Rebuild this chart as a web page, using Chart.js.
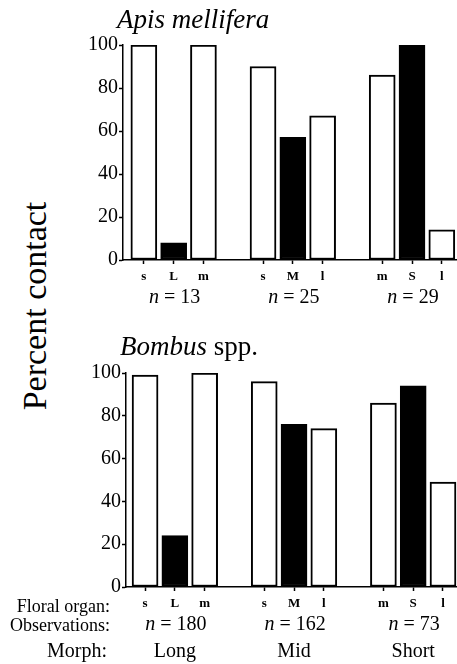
<!DOCTYPE html>
<html>
<head>
<meta charset="utf-8">
<script src="https://cdn.jsdelivr.net/npm/chart.js@4.4.1/dist/chart.umd.min.js"></script>
<style>
  body { margin: 0; background: #fff; width: 457px; height: 664px; position: relative; overflow: hidden; }
  canvas { position: absolute; left: 0; }
  #ylab {
    position: absolute; left: 35px; top: 306px;
    font-family: 'Liberation Serif', 'Times New Roman', serif; font-size: 34px; line-height: 1;
    white-space: nowrap; color: #000;
    transform-origin: 0 0; transform: rotate(-90deg) translate(-50%, -50%);
  }
</style>
</head>
<body>
<div id="ylab">Percent contact</div>
<canvas id="apis" width="457" height="310" style="top:0"></canvas>
<canvas id="bombus" width="457" height="354" style="top:310px"></canvas>
<script>
// floral organs per flower morph (capital = reciprocal organ, drawn black)
const morphs = ['Long', 'Mid', 'Short'];
const organs = [['s', 'L', 'm'], ['s', 'M', 'l'], ['m', 'S', 'l']];
const apisValues = [100, 8, 100, 90, 57, 67, 86, 100, 14];
const bombusValues = [99, 24, 100, 96, 76, 74, 86, 94, 49];
const apisN = [13, 25, 29];
const bombusN = [180, 162, 73];
const yTicks = [0, 20, 40, 60, 80, 100];

const serif = "'Liberation Serif', 'Times New Roman', serif";
Chart.defaults.font.family = serif;
Chart.defaults.color = '#000';

const labels = organs.flat();
// one empty slot between morph groups
const slots = labels.map((_, k) => Math.floor(k / 3) * 4 + k % 3);

function drawRuns(ctx, runs, x, y, align) {
  const fnt = r => (r.italic ? 'italic ' : '') + r.size + 'px ' + serif;
  let w = 0;
  runs.forEach(r => { ctx.font = fnt(r); w += ctx.measureText(r.text).width; });
  let cx = align === 'center' ? x - w / 2 : align === 'right' ? x - w : x;
  ctx.textAlign = 'left';
  ctx.textBaseline = 'alphabetic';
  ctx.fillStyle = '#000';
  runs.forEach(r => {
    ctx.font = fnt(r);
    ctx.fillText(r.text, cx, y);
    cx += ctx.measureText(r.text).width;
  });
}

const textRows = {
  id: 'textRows',
  afterDraw(chart, args, o) {
    const ctx = chart.ctx;
    const x = chart.scales.x;
    ctx.save();
    drawRuns(ctx, o.title, o.titleX, o.titleY, 'left');
    o.counts.forEach((n, g) => {
      const cx = x.getPixelForValue(g * 4 + 1) + 1;
      drawRuns(ctx, [{ text: 'n', italic: true, size: 20 }, { text: ' = ' + n, size: 20 }], cx, o.nY, 'center');
    });
    if (o.morphY) {
      morphs.forEach((m, g) => {
        drawRuns(ctx, [{ text: m, size: 20 }], x.getPixelForValue(g * 4 + 1), o.morphY, 'center');
      });
      drawRuns(ctx, [{ text: 'Floral organ:', size: 18 }], 110, o.organY, 'right');
      drawRuns(ctx, [{ text: 'Observations:', size: 18 }], 110, o.nY + 1, 'right');
      drawRuns(ctx, [{ text: 'Morph:', size: 20 }], 107, o.morphY, 'right');
    }
    ctx.restore();
  }
};

function makePanel(id, values, counts, p) {
  new Chart(document.getElementById(id), {
    type: 'bar',
    data: {
      datasets: [{
        data: values.map((v, k) => ({ x: slots[k], y: v })),
        backgroundColor: labels.map(l => l === l.toUpperCase() ? '#000' : '#fff'),
        borderColor: '#000',
        borderWidth: 2,
        borderSkipped: false,
        barThickness: 26
      }]
    },
    options: {
      responsive: false,
      animation: false,
      layout: { padding: { top: p.top, left: 0, right: 0, bottom: 0 } },
      plugins: {
        legend: { display: false },
        tooltip: { enabled: false },
        textRows: p.rows
      },
      scales: {
        x: {
          type: 'linear',
          min: p.xmin,
          max: p.xmax,
          offset: false,
          afterBuildTicks: s => { s.ticks = slots.map(v => ({ value: v })); },
          afterFit: s => { s.height = p.xh; },
          grid: { offset: false, drawOnChartArea: false, drawTicks: true, tickLength: 4, tickColor: '#000', tickWidth: 1.5 },
          border: { display: true, color: '#000', width: 1.5 },
          ticks: {
            autoSkip: false, maxRotation: 0, padding: 5, color: '#000',
            font: { family: serif, size: 13, weight: 'bold' },
            callback: (v, i) => labels[i]
          }
        },
        y: {
          min: 0,
          max: 100,
          afterBuildTicks: s => { s.ticks = yTicks.map(v => ({ value: v })); },
          afterFit: s => { s.width = p.yw; },
          grid: { drawOnChartArea: false, drawTicks: true, tickLength: 4, tickColor: '#000', tickWidth: 1.5 },
          border: { display: true, color: '#000', width: 1.5 },
          ticks: { padding: 1, color: '#000', font: { family: serif, size: 20 } }
        }
      }
    },
    plugins: [textRows]
  });
}

makePanel('apis', apisValues, apisN, {
  top: 45, xh: 50, yw: 123, xmin: -0.70, xmax: 10.51,
  rows: {
    title: [{ text: 'Apis mellifera', italic: true, size: 27 }],
    titleX: 117, titleY: 28, counts: apisN, nY: 303
  }
});

makePanel('bombus', bombusValues, bombusN, {
  top: 63, xh: 77, yw: 126, xmin: -0.64, xmax: 10.47,
  rows: {
    title: [{ text: 'Bombus', italic: true, size: 27 }, { text: ' spp.', size: 27 }],
    titleX: 120, titleY: 45, counts: bombusN, nY: 320, organY: 302, morphY: 347
  }
});
</script>
</body>
</html>
